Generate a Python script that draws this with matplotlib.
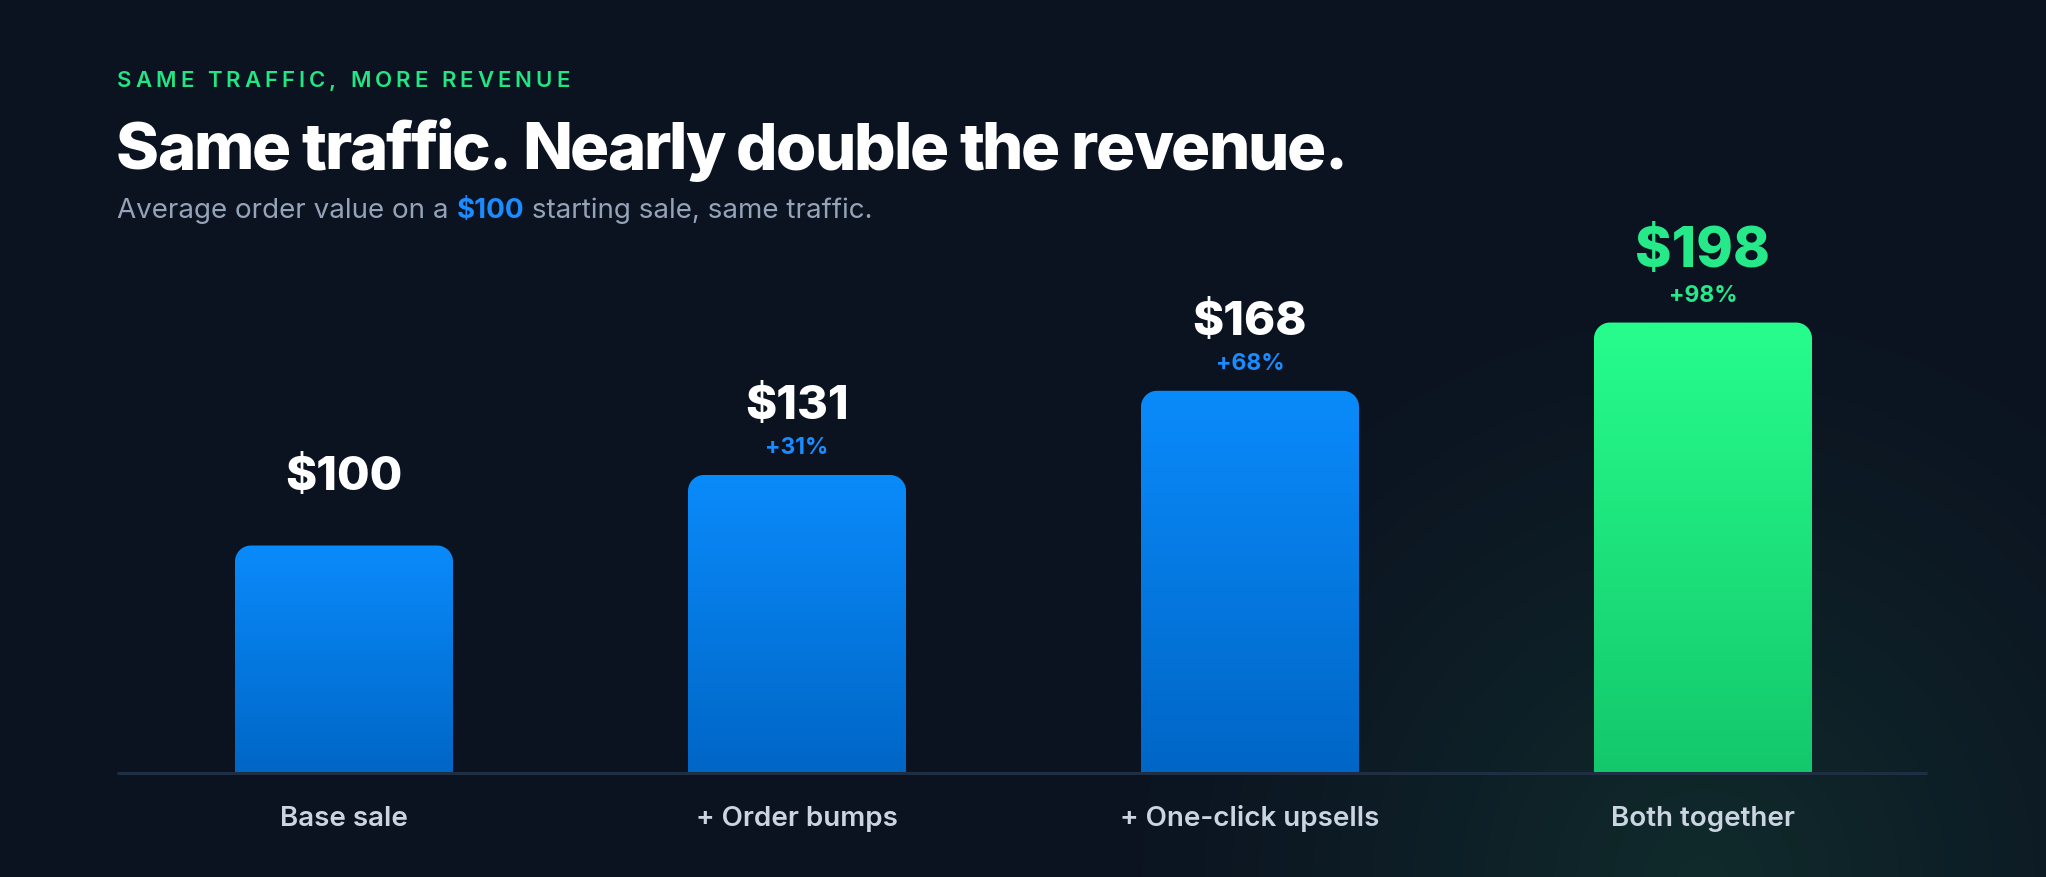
import numpy as np
import matplotlib
matplotlib.use("Agg")
import matplotlib.pyplot as plt
from matplotlib.colors import LinearSegmentedColormap
from matplotlib.patches import Polygon

# ---------------- data ----------------
categories = ["Base sale", "+ Order bumps", "+ One-click upsells", "Both together"]
values = [100, 131, 168, 198]
eyebrow = "SAME TRAFFIC, MORE REVENUE"
title = "Same traffic. Nearly double the revenue."
subtitle_parts = ["Average order value on a ", "$100", " starting sale, same traffic."]

# ---------------- style ----------------
W, H = 2046, 877
BG = "#0b1220"
FONT = ["Inter", "DejaVu Sans"]
blue_top, blue_bot = "#0a8bfb", "#0066c6"
green_top, green_bot = "#27fd8d", "#13c86b"

plt.rcParams["font.family"] = FONT

fig = plt.figure(figsize=(W / 100, H / 100), dpi=100, facecolor=BG)

def fx(px):
    return px / W

def fy(py):
    return 1 - py / H

# background glow (radial) behind the last bar
bg = fig.add_axes([0, 0, 1, 1], zorder=0)
bg.set_axis_off()
yy, xx = np.mgrid[0:H, 0:W]
cx, cy, R = 1703, 880, 640
r = np.sqrt((xx - cx) ** 2 + (yy - cy) ** 2) / R
a = np.clip(1 - r, 0, 1) ** 1.2 * 0.75
base = np.array(matplotlib.colors.to_rgb(BG))
glow = np.array(matplotlib.colors.to_rgb("#123330"))
img = base[None, None, :] * (1 - a[..., None]) + glow[None, None, :] * a[..., None]
bg.imshow(img, extent=[0, W, H, 0], aspect="auto", interpolation="bilinear")
bg.set_xlim(0, W)
bg.set_ylim(H, 0)

# main axes
left_px, right_px, base_px = 117, 1927, 773
center0, step = 344, 453
px_per_val = 2.275
ax = fig.add_axes([fx(left_px), 1 - base_px / H, (right_px - left_px) / W, base_px / H], zorder=2)
ax.set_facecolor("none")
ax.set_axis_off()
xlim = ((left_px - center0) / step, (right_px - center0) / step)
ylim = (0, base_px / px_per_val)

bar_w = 218 / step
rad_px = 16
rx = rad_px / step
ry = rad_px / px_per_val

grad = np.linspace(0, 1, 256).reshape(-1, 1)
for i, v in enumerate(values):
    last = i == len(values) - 1
    top_c, bot_c = (green_top, green_bot) if last else (blue_top, blue_bot)
    cmap = LinearSegmentedColormap.from_list("g%d" % i, [bot_c, top_c])
    x0, x1 = i - bar_w / 2, i + bar_w / 2
    t = np.linspace(0, np.pi / 2, 20)
    pts = [(x0, 0), (x0, v - ry)]
    pts += [(x0 + rx - rx * np.cos(tt), v - ry + ry * np.sin(tt)) for tt in t]
    pts += [(x1 - rx + rx * np.sin(tt), v - ry + ry * np.cos(tt)) for tt in t]
    pts += [(x1, 0)]
    poly = Polygon(pts, closed=True, facecolor="none", edgecolor="none")
    ax.add_patch(poly)
    im = ax.imshow(grad, extent=[x0, x1, 0, v], origin="lower", cmap=cmap,
                   aspect="auto", interpolation="bilinear", zorder=2)
    im.set_clip_path(poly)

    vcol = "#26e98a" if last else "#ffffff"
    vsize = 40 if last else 34
    ax.annotate("$%d" % v, (i, v), xytext=(0, 68 if not last else 71), textcoords="offset pixels",
                ha="center", va="center", fontsize=vsize, fontweight="heavy",
                color=vcol, annotation_clip=False, parse_math=False)
    if i > 0:
        pct = "+%d%%" % round((v - values[0]) / values[0] * 100)
        pcol = "#26e98a" if last else "#1a8cff"
        ax.annotate(pct, (i, v), xytext=(0, 27), textcoords="offset pixels",
                    ha="center", va="center", fontsize=16.5, fontweight="bold",
                    color=pcol, annotation_clip=False)
    ax.annotate(categories[i], (i, 0), xytext=(0, -46), textcoords="offset pixels",
                ha="center", va="center", fontsize=20, fontweight="semibold",
                color="#cbd5e1", annotation_clip=False)

ax.plot([xlim[0], xlim[1]], [0, 0], color="#1f2e42", lw=2.2, zorder=3, clip_on=False,
        solid_capstyle="butt")
ax.set_xlim(*xlim)
ax.set_ylim(*ylim)

# ---------------- header texts ----------------
renderer = fig.canvas.get_renderer()

def text_width(s, **kw):
    t = fig.text(0, 0, s + "I", **kw)
    w1 = t.get_window_extent(renderer).width
    t.remove()
    t = fig.text(0, 0, "I", **kw)
    w2 = t.get_window_extent(renderer).width
    t.remove()
    return w1 - w2

def spaced_text(s, x0, y, spacing, color, **kw):
    for k, ch in enumerate(s):
        if ch == " ":
            continue
        xi = x0 + text_width(s[:k], **kw) + k * spacing
        fig.text(fx(xi), fy(y), ch, color=color, va="center", ha="left", **kw)

# eyebrow with letter spacing
spaced_text(eyebrow, 117, 81, 4.0, "#22e584",
            fontsize=16, fontweight="semibold", parse_math=False)

# title with tight tracking
spaced_text(title, 116, 152, -2.0, "#ffffff",
            fontsize=47, fontweight="heavy", parse_math=False)

x = 117
sub_cols = ["#94a3b8", "#1a8cff", "#94a3b8"]
sub_w = ["normal", "bold", "normal"]
for part, c, wgt in zip(subtitle_parts, sub_cols, sub_w):
    kw = dict(fontsize=20, fontweight=wgt, parse_math=False)
    fig.text(fx(x), fy(211), part, color=c, va="center", ha="left", **kw)
    x += text_width(part, **kw)

fig.savefig("out.png", dpi=100, facecolor=BG)
